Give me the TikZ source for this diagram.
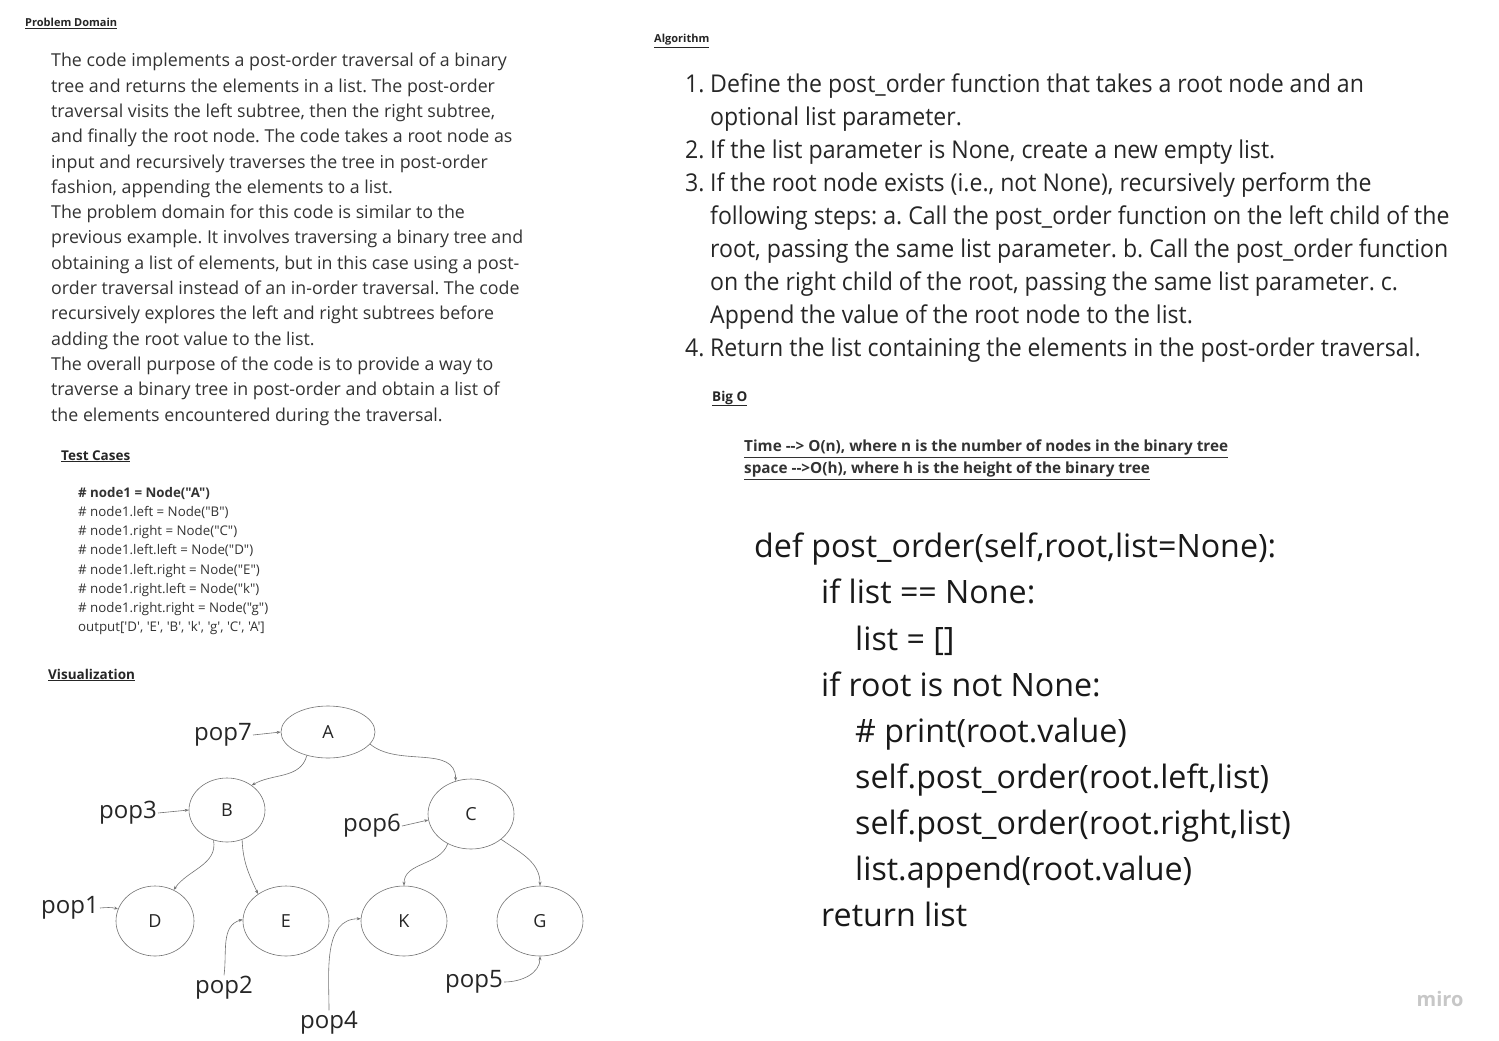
\documentclass[tikz,border=0pt]{standalone}
\usepackage{fontspec}
\setmainfont{Open Sans}
\newfontfamily\narrowfont[FakeStretch=0.943]{Open Sans}
\newfontfamily\testfont{Open Sans}
\usetikzlibrary{positioning}
\usetikzlibrary{shapes.geometric}
\usetikzlibrary{arrows.meta}
\tikzset{
    small head/.style = {font=\fontsize{11}{13}\selectfont\bfseries, anchor=base west, inner sep=0, text=black!85},
    mid head/.style = {font=\fontsize{13.5}{15}\selectfont\bfseries, anchor=base west, inner sep=0, text=black!85},
    body text/.style = {font=\fontsize{17.8}{25.3}\selectfont, align=left, anchor=north west, inner sep=0, text=black!80},
    test text/.style = {font=\testfont\fontsize{13.3}{19.2}\selectfont, align=left, anchor=north west, inner sep=0, text=black!80},
    algo text/.style = {font=\narrowfont\fontsize{24.5}{32.9}\selectfont, align=left, anchor=north west, inner sep=0, text=black!85},
    big text/.style = {font=\fontsize{15.3}{22}\selectfont\bfseries, align=left, anchor=north west, inner sep=0, text=black!80},
    code text/.style = {font=\fontsize{32.2}{46.1}\selectfont, align=left, anchor=north west, inner sep=0, text=black!90},
    tree node/.style = {ellipse, draw=black!55, line width=0.6pt, inner sep=0, font=\fontsize{18}{18}\selectfont, text=black!85},
    pop label/.style = {inner sep=1pt, font=\fontsize{24}{24}\selectfont, text=black!85},
    tree edge/.style = {draw=black!55, line width=0.6pt, -{Stealth[length=4pt,width=3pt]}}
}
\newcommand{\num}[1]{\makebox[25pt][l]{#1}}
\newcommand{\hang}{\hspace*{25pt}}
\begin{document}
\frenchspacing
\begin{tikzpicture}[x=1pt,y=-1pt]
    \useasboundingbox[fill=white] (0,0) rectangle (1499,1041);
    % left column
    \node[small head] (pdHead) at (25,27) {\underline{Problem Domain}};
    \node[body text] (pdText) at (51,53) {The code implements a post-order traversal of a binary\\
        tree and returns the elements in a list. The post-order\\
        traversal visits the left subtree, then the right subtree,\\
        and finally the root node. The code takes a root node as\\
        input and recursively traverses the tree in post-order\\
        fashion, appending the elements to a list.\\
        The problem domain for this code is similar to the\\
        previous example. It involves traversing a binary tree and\\
        obtaining a list of elements, but in this case using a post-\\
        order traversal instead of an in-order traversal. The code\\
        recursively explores the left and right subtrees before\\
        adding the root value to the list.\\
        The overall purpose of the code is to provide a way to\\
        traverse a binary tree in post-order and obtain a list of\\
        the elements encountered during the traversal.};
    \node[mid head] (tcHead) at (61,460) {\underline{Test Cases}};
    \node[test text] (tcText) at (78,487) {\textbf{\# node1 = Node("A")}\\
        \# node1.left = Node("B")\\
        \# node1.right = Node("C")\\
        \# node1.left.left = Node("D")\\
        \# node1.left.right = Node("E")\\
        \# node1.right.left = Node("k")\\
        \# node1.right.right = Node("g")\\
        output['D', 'E', 'B', 'k', 'g', 'C', 'A']};
    \node[mid head] (visHead) at (48,679) {\underline{Visualization}};
    % tree
    \node[tree node, minimum width=94pt, minimum height=52pt] (A) at (328,732) {A};
    \node[tree node, minimum width=76pt, minimum height=64pt] (B) at (227,810) {B};
    \node[tree node, minimum width=86pt, minimum height=70pt] (C) at (471,814) {C};
    \node[tree node, minimum width=78pt, minimum height=70pt] (D) at (155,921) {D};
    \node[tree node, minimum width=86pt, minimum height=70pt] (E) at (286,921) {E};
    \node[tree node, minimum width=86pt, minimum height=70pt] (K) at (404,921) {K};
    \node[tree node, minimum width=86pt, minimum height=70pt] (G) at (540,921) {G};
    \node[pop label] (pop7) at (223,735) {pop7};
    \node[pop label] (pop3) at (128,813) {pop3};
    \node[pop label] (pop6) at (372,826) {pop6};
    \node[pop label] (pop1) at (70,908) {pop1};
    \node[pop label] (pop2) at (224,988) {pop2};
    \node[pop label] (pop4) at (329,1023) {pop4};
    \node[pop label] (pop5) at (474,982) {pop5};
    \draw[tree edge] (A.228) to[out=-105,in=30] (B.45);
    \draw[tree edge] (A.-16) to[out=-40,in=90] (C.115);
    \draw[tree edge] (B.246) to[out=-80,in=55] (D.59);
    \draw[tree edge] (B.297) to[out=-88,in=115] (E.136);
    \draw[tree edge] (C.232) to[out=-110,in=90] (K.90);
    \draw[tree edge] (C.320) to[out=-35,in=90] (G.90);
    \draw[tree edge] (pop7.east) -- (A.west);
    \draw[tree edge] (pop3.east) -- (B.west);
    \draw[tree edge] (pop6.east) -- (C.188);
    \draw[tree edge] (pop1.east) to[out=5,in=165] (D.162);
    \draw[tree edge] (pop2.north) to[out=82,in=195] (E.178);
    \draw[tree edge] (pop4.north) to[out=90,in=180] (K.177);
    \draw[tree edge] (pop5.east) to[out=0,in=-90] (G.south);
    % right column
    \node[small head] (algHead) at (654,43) {\underline{Algorithm}};
    \node[algo text] (algText) at (685,74) {\num{1.}Define the post\_order function that takes a root node and an\\
        \hang optional list parameter.\\
        \num{2.}If the list parameter is None, create a new empty list.\\
        \num{3.}If the root node exists (i.e., not None), recursively perform the\\
        \hang following steps: a. Call the post\_order function on the left child of the\\
        \hang root, passing the same list parameter. b. Call the post\_order function\\
        \hang on the right child of the root, passing the same list parameter. c.\\
        \hang Append the value of the root node to the list.\\
        \num{4.}Return the list containing the elements in the post-order traversal.};
    \node[mid head] (bigHead) at (712,401) {\underline{Big O}};
    \node[big text] (bigText) at (744,440) {\underline{Time -{}-> O(n), where n is the number of nodes in the binary tree}\\
        \underline{space -{}->O(h), where h is the height of the binary tree}};
    \node[code text] (codeText) at (754,533) {def post\_order(self,root,list=None):\\
        \hspace*{67pt}if list == None:\\
        \hspace*{101pt}list = []\\
        \hspace*{67pt}if root is not None:\\
        \hspace*{101pt}\# print(root.value)\\
        \hspace*{101pt}self.post\_order(root.left,list)\\
        \hspace*{101pt}self.post\_order(root.right,list)\\
        \hspace*{101pt}list.append(root.value)\\
        \hspace*{67pt}return list};
    \node[font=\fontsize{20}{20}\selectfont\bfseries, text=black!22] (miro) at (1440,999) {miro};
\end{tikzpicture}
\end{document}
